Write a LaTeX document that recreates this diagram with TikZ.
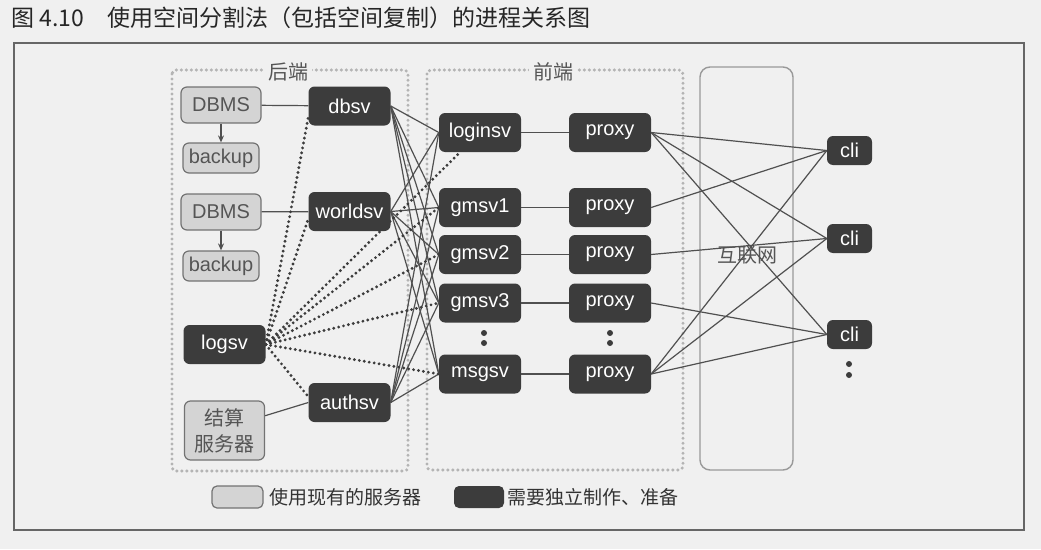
\documentclass[tikz,border=0pt]{standalone}
\usepackage{fontspec}
\setmainfont{Liberation Sans}
\newfontfamily\cjk{Noto Sans CJK SC}
\usetikzlibrary{arrows.meta}

\definecolor{paper}{RGB}{240,240,240}
\definecolor{darkbox}{RGB}{60,60,60}
\definecolor{lightbox}{RGB}{212,212,212}
\definecolor{lightedge}{RGB}{115,115,115}
\definecolor{lighttext}{RGB}{85,85,85}
\definecolor{linkgray}{RGB}{80,80,80}
\definecolor{zonegray}{RGB}{180,180,180}

\begin{document}
\begin{tikzpicture}[x=1pt,y=-1pt,font=\fontsize{20}{22}\selectfont,
  darksv/.style={rounded corners=6pt, fill=darkbox, text=white,
    minimum width=82, minimum height=39, inner sep=0pt},
  lightsv/.style={rounded corners=6pt, fill=lightbox, draw=lightedge,
    line width=1.2pt, text=lighttext, minimum width=80, minimum height=36, inner sep=0pt},
  link/.style={draw=linkgray, line width=1.2pt},
  loglink/.style={draw=darkbox, line width=3.2pt, dash pattern=on 0pt off 5pt, line cap=round},
  zone/.style={draw=zonegray, line width=3.4pt, dash pattern=on 0pt off 5pt, line cap=round, rounded corners=4pt},
  zonelabel/.style={fill=paper, text=lighttext, inner sep=4pt, font=\cjk\fontsize{20}{22}\selectfont}]

\fill[paper] (0,0) rectangle (1041,549);
\useasboundingbox (0,0) rectangle (1041,549);

% title and frame
\node[anchor=west, text=black!85, font=\cjk\fontsize{23}{25}\selectfont] (title) at (8,18)
  {图 4.10\quad 使用空间分割法（包括空间复制）的进程关系图};
\draw[draw=black!60, line width=1.2pt] (14,43) rectangle (1024,530);

% zones
\draw[zone] (172,70) rectangle (408,471);
\draw[zone] (427,70) rectangle (683,470);
\draw[draw=zonegray!85!black, line width=1.4pt, rounded corners=10pt] (700,67) rectangle (793,470);
\node[zonelabel] (back) at (288,72) {后端};
\node[zonelabel] (front) at (553,72) {前端};
\node[text=lighttext, font=\cjk\fontsize{20}{22}\selectfont] (net) at (747,255) {互联网};

% backend
\node[lightsv] (dbmsa) at (221,105) {DBMS};
\node[lightsv, minimum width=76, minimum height=30] (backupa) at (221,158) {backup};
\node[lightsv] (dbmsb) at (221,212) {DBMS};
\node[lightsv, minimum width=76, minimum height=30] (backupb) at (221,266) {backup};
\node[lightsv, minimum height=59, align=center, font=\cjk\fontsize{20}{26}\selectfont] (jiesuan) at (224.5,430.5) {结算\\服务器};
\node[darksv] (logsv) at (224.5,344.5) {logsv};
\foreach \name/\y in {dbsv/106, worldsv/211.5, authsv/402.5}
  \node[darksv] (\name) at (349.5,\y) {\name};

% frontend
\foreach \name/\y/\i in {loginsv/132.5/1, gmsv1/207.5/2, gmsv2/254.5/3, gmsv3/303/4, msgsv/374/5}{
  \node[darksv] (\name) at (480,\y) {\name};
  \node[darksv] (proxy\i) at (610,\y) {proxy};
  \draw[link] (\name) -- (proxy\i);
}
\foreach \i/\y in {1/150.5, 2/238.5, 3/334.5}
  \node[darksv, minimum width=45, minimum height=29] (cli\i) at (849.5,\y) {cli};

% ellipses
\foreach \x/\y in {484/333, 484/343, 610/333, 610/343, 849/364, 849/375}
  \fill[darkbox] (\x,\y) circle (3);

% links
\draw[link] (dbmsa) -- (dbsv);
\draw[link] (dbmsb) -- (worldsv);
\draw[link, -{Stealth[length=7pt,width=6pt]}] (dbmsa) -- (backupa);
\draw[link, -{Stealth[length=7pt,width=6pt]}] (dbmsb) -- (backupb);
\draw[link] (jiesuan.20) -- (authsv.west);
\foreach \b in {dbsv, worldsv, authsv}
  \foreach \f in {loginsv, gmsv1, gmsv2, gmsv3, msgsv}
    \draw[link] (\b.east) -- (\f.west);
\foreach \t in {dbsv.195, worldsv.190, authsv.172, loginsv, gmsv1.west, gmsv2.west, gmsv3.west, msgsv.west}
  \draw[loglink] (logsv.east) -- (\t);
\foreach \p/\c in {1/1, 1/2, 1/3, 2/1, 3/2, 4/3, 5/1, 5/2, 5/3}
  \draw[link] (proxy\p.east) -- (cli\c.west);

% legend
\draw[rounded corners=5pt, fill=lightbox, draw=lightedge, line width=1.2pt] (212,486) rectangle (263,508);
\node[anchor=west, text=black!80, font=\cjk\fontsize{19}{21}\selectfont] (keyold) at (266,497) {使用现有的服务器};
\fill[rounded corners=5pt, darkbox] (454,486) rectangle (504,508);
\node[anchor=west, text=black!80, font=\cjk\fontsize{19}{21}\selectfont] (keynew) at (504,497) {需要独立制作、准备};
\end{tikzpicture}
\end{document}
